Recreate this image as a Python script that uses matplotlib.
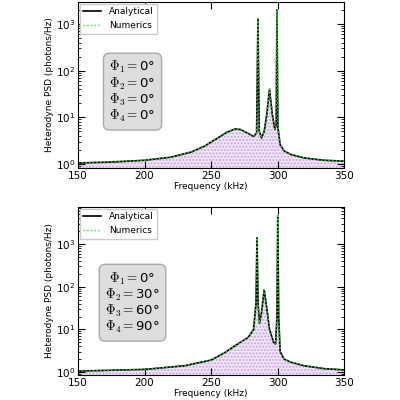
import numpy as np
import matplotlib.pyplot as plt

plt.rcParams['mathtext.fontset'] = 'cm'

# Values (frequency in kHz, PSD in photons/Hz)
freq_a = [150, 175, 200, 220, 235, 245, 255, 262, 268, 272, 278, 282, 284.3, 285.3, 286.3,
          288, 290, 292, 294, 296, 298, 299.0, 299.6, 300.3, 302, 305, 310, 320, 335, 350]
psd_a = [1.05, 1.1, 1.2, 1.4, 1.8, 2.4, 3.6, 4.8, 5.6, 5.5, 4.5, 3.9, 4.6, 1300, 5.0,
         3.6, 5.0, 12, 40, 12, 5.5, 7.0, 2000, 6.0, 2.6, 1.9, 1.6, 1.35, 1.2, 1.15]

freq_b = [150, 200, 230, 250, 260, 270, 278, 282, 283.8, 284.6, 285.4, 286.5, 288,
          290, 292, 294, 297, 298.5, 299.6, 300.2, 300.9, 302, 305, 310, 320, 335, 350]
psd_b = [1.05, 1.15, 1.4, 1.9, 2.8, 4.5, 6.5, 10, 40, 1400, 40, 14, 25,
         85, 30, 10, 5.0, 4.5, 20, 4600, 20, 3.0, 2.0, 1.7, 1.4, 1.2, 1.12]

phases_a = ['0°', '0°', '0°', '0°']
phases_b = ['0°', '30°', '60°', '90°']

panels = [
    (freq_a, psd_a, (0.82, 2950), 0.46, phases_a),
    (freq_b, psd_b, (0.85, 7400), 0.43, phases_b),
]
rects = [[78/400, 1-168/400, 266/400, 166/400], [78/400, 1-375/400, 266/400, 168/400]]

fig = plt.figure(figsize=(4, 4), dpi=100)
for (f, p, ylim, ty, phases), rect in zip(panels, rects):
    ax = fig.add_axes(rect)
    ax.fill_between(f, 1e-3, p, facecolor='#f0e6f6', edgecolor='#c9a3e0', hatch='.....', linewidth=0)
    ax.plot(f, p, color='black', lw=1.2, label='Analytical')
    ax.plot(f, p, color='#33dd33', lw=1.0, ls=':', label='Numerics')
    ax.set_yscale('log')
    ax.set_xlim(150, 350)
    ax.set_ylim(*ylim)
    ax.set_xticks([150, 200, 250, 300, 350])
    ax.tick_params(direction='in', which='both', top=True, right=True, labelsize=7.5, pad=2)
    ax.tick_params(which='major', length=5)
    ax.set_xlabel('Frequency (kHz)', fontsize=6.5, labelpad=1)
    ax.set_ylabel('Heterodyne PSD (photons/Hz)', fontsize=6.5, labelpad=1)
    ax.legend(loc='upper left', fontsize=6.5, fancybox=False, framealpha=1, borderaxespad=0.2)
    lines = [r'$\Phi_%d=$' % (i + 1) + ph for i, ph in enumerate(phases)]
    ax.text(0.205, ty, '\n'.join(lines), transform=ax.transAxes, fontsize=9.5,
            va='center', ha='center', linespacing=1.0,
            bbox=dict(boxstyle='round,pad=0.45', facecolor='#dddddd', edgecolor='#aaaaaa'))

plt.savefig('out.png')
